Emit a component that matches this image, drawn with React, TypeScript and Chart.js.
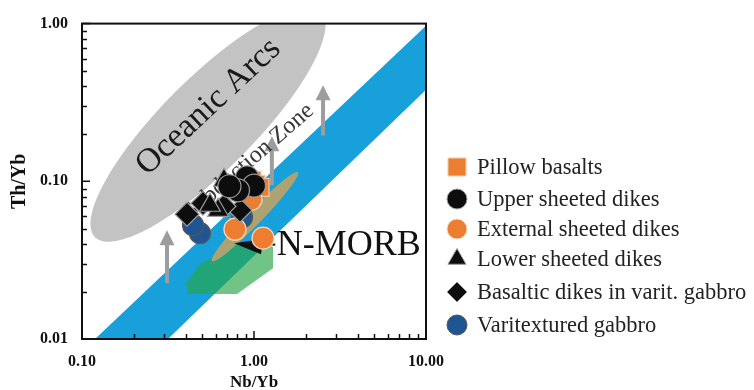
import React, { useEffect, useRef } from "react";
import { Chart, registerables } from "chart.js";
import { drawPoint } from "chart.js/helpers";

Chart.register(...registerables);

// ---------- axes ----------
const xMin = 0.1;
const xMax = 10;
const yMin = 0.01;
const yMax = 1;
const xMajor = [0.1, 1, 10];
const yMajor = [0.01, 0.1, 1];
const xMinor = [0.2, 0.3, 0.4, 0.5, 0.6, 0.7, 0.8, 0.9, 2, 3, 4, 5, 6, 7, 8, 9];
const yMinor = [0.02, 0.03, 0.04, 0.05, 0.06, 0.07, 0.08, 0.09, 0.2, 0.3, 0.4, 0.5, 0.6, 0.7, 0.8, 0.9];
const xTitle = "Nb/Yb";
const yTitle = "Th/Yb";

// ---------- series ----------
const seriesNames = [
  "Pillow basalts",
  "Upper sheeted dikes",
  "External sheeted dikes",
  "Lower sheeted dikes",
  "Basaltic dikes in varit. gabbro",
  "Varitextured gabbro",
];
const pillowNb = [0.973, 1.027, 1.084, 0.935];
const pillowTh = [0.1015, 0.0957, 0.0916, 0.0852];
const upperNb = [0.911, 1.0, 0.807, 0.72];
const upperTh = [0.106, 0.094, 0.0877, 0.093];
const externalNb = [0.775, 1.128, 0.961];
const externalTh = [0.0497, 0.0436, 0.0769];
const lowerNb = [0.669, 0.618, 0.555];
const lowerTh = [0.1015, 0.0655, 0.0705];
const basalticNb = [0.408, 0.505, 0.829, 0.669];
const basalticTh = [0.0618, 0.0726, 0.0655, 0.0695];
const varitexNb = [0.485, 0.442, 0.852];
const varitexTh = [0.0469, 0.0527, 0.0591];

// ---------- reference fields ----------
const bandNb = [0.119, 10, 10, 0.316];
const bandTh = [0.01, 0.97, 0.38, 0.01];
const morbNb = [0.402, 0.413, 0.797, 1.29, 1.29, 1.113, 0.829, 0.485];
const morbTh = [0.0226, 0.0193, 0.0193, 0.0281, 0.0382, 0.0423, 0.0405, 0.0298];
// ellipses: centre, end of major axis, end of minor axis
const arcsNb = [0.54, 0.119, 0.835];
const arcsTh = [0.2297, 0.0442, 0.1429];
const tanNb = [1.013, 0.57, 1.09];
const tanTh = [0.0596, 0.0312, 0.0556];
// vertical arrows
const arrowNb = [0.312, 1.27, 2.52];
const arrowFromTh = [0.0226, 0.0944, 0.195];
const arrowToTh = [0.049, 0.193, 0.406];
// N-MORB pointer
const pointerNb = [0.766, 1.128, 1.098];
const pointerTh = [0.0405, 0.043, 0.0345];
const dashNb = [1.25, 1.33];
const dashTh = [0.0397, 0.0397];
// labels
const labelTexts = ["Oceanic Arcs", "Subduction Zone", "N-MORB"];
const labelNb = [0.544, 0.929, 1.355];
const labelTh = [0.296, 0.1329, 0.0394];

const pts = (xs: number[], ys: number[]) => xs.map((x, i) => ({ x, y: ys[i] }));

const fieldsPlugin = {
  id: "fields",
  beforeDatasetsDraw(chart: any) {
    const { ctx, chartArea: a } = chart;
    const xs = chart.scales.x;
    const ys = chart.scales.y;
    const X = (v: number) => xs.getPixelForValue(v);
    const Y = (v: number) => ys.getPixelForValue(v);
    ctx.save();
    ctx.beginPath();
    ctx.rect(a.left, a.top, a.right - a.left, a.bottom - a.top);
    ctx.clip();

    const poly = (nx: number[], ty: number[], fill: string) => {
      ctx.beginPath();
      nx.forEach((n, i) => (i === 0 ? ctx.moveTo(X(n), Y(ty[i])) : ctx.lineTo(X(n), Y(ty[i]))));
      ctx.closePath();
      ctx.fillStyle = fill;
      ctx.fill();
    };
    const ell = (nx: number[], ty: number[], fill: string) => {
      const cx = X(nx[0]), cy = Y(ty[0]);
      const mx = X(nx[1]) - cx, my = Y(ty[1]) - cy;
      const nxp = X(nx[2]) - cx, nyp = Y(ty[2]) - cy;
      ctx.beginPath();
      ctx.ellipse(cx, cy, Math.hypot(mx, my), Math.hypot(nxp, nyp), Math.atan2(my, mx), 0, Math.PI * 2);
      ctx.fillStyle = fill;
      ctx.fill();
    };

    poly(bandNb, bandTh, "#17a0d9");
    poly(morbNb, morbTh, "rgba(40,165,70,0.66)");
    ell(tanNb, tanTh, "#ada372");
    ell(arcsNb, arcsTh, "#c3c3c3");

    // arrows
    ctx.fillStyle = "#9d9d9d";
    ctx.strokeStyle = "#9d9d9d";
    arrowNb.forEach((n, i) => {
      const x = X(n);
      const y0 = Y(arrowFromTh[i]);
      const y1 = Y(arrowToTh[i]);
      ctx.lineWidth = 4;
      ctx.beginPath();
      ctx.moveTo(x, y0);
      ctx.lineTo(x, y1 + 12);
      ctx.stroke();
      ctx.beginPath();
      ctx.moveTo(x, y1);
      ctx.lineTo(x - 7.5, y1 + 15);
      ctx.lineTo(x + 7.5, y1 + 15);
      ctx.closePath();
      ctx.fill();
    });

    // N-MORB pointer
    ctx.fillStyle = "#111";
    ctx.beginPath();
    pointerNb.forEach((n, i) => (i === 0 ? ctx.moveTo(X(n), Y(pointerTh[i])) : ctx.lineTo(X(n), Y(pointerTh[i]))));
    ctx.closePath();
    ctx.fill();
    ctx.restore();

    // labels
    const drawLabel = (i: number, size: number, rot: number, color: string, align: CanvasTextAlign) => {
      ctx.save();
      ctx.translate(X(labelNb[i]), Y(labelTh[i]));
      ctx.rotate(rot);
      ctx.font = `${size}px "Liberation Serif"`;
      ctx.fillStyle = color;
      ctx.textAlign = align;
      ctx.textBaseline = "middle";
      ctx.fillText(labelTexts[i], 0, 0);
      ctx.restore();
    };
    drawLabel(0, 34, (-43 * Math.PI) / 180, "#1a1a1a", "center");
    drawLabel(1, 24, (-41 * Math.PI) / 180, "#3a3a3a", "center");
    drawLabel(2, 36, 0, "#111", "left");

    ctx.save();
    ctx.strokeStyle = "#111";
    ctx.lineWidth = 2;
    ctx.beginPath();
    ctx.moveTo(X(dashNb[0]), Y(dashTh[0]));
    ctx.lineTo(X(dashNb[1]), Y(dashTh[1]));
    ctx.stroke();
    ctx.restore();
  },
  afterDraw(chart: any) {
    const { ctx, chartArea: a } = chart;
    const xs = chart.scales.x;
    const ys = chart.scales.y;
    ctx.save();
    ctx.strokeStyle = "#111";
    ctx.lineWidth = 2;
    ctx.strokeRect(a.left, a.top, a.right - a.left, a.bottom - a.top);
    ctx.lineWidth = 1.5;
    ctx.beginPath();
    xMinor.forEach((v) => {
      const x = Math.round(xs.getPixelForValue(v)) + 0.5;
      ctx.moveTo(x, a.bottom);
      ctx.lineTo(x, a.bottom - 5);
    });
    yMinor.forEach((v) => {
      const y = Math.round(ys.getPixelForValue(v)) + 0.5;
      ctx.moveTo(a.left, y);
      ctx.lineTo(a.left + 5, y);
    });
    ctx.stroke();
    ctx.beginPath();
    xMajor.forEach((v) => {
      const x = xs.getPixelForValue(v);
      ctx.moveTo(x, a.bottom);
      ctx.lineTo(x, a.bottom - 8);
    });
    yMajor.forEach((v) => {
      const y = ys.getPixelForValue(v);
      ctx.moveTo(a.left, y);
      ctx.lineTo(a.left + 8, y);
    });
    ctx.stroke();
    ctx.restore();

    // legend
    const legendY = [167, 199, 229, 259, 292, 325];
    const legendR = [12.7, 10, 10, 10.5, 10, 10];
    chart.data.datasets.forEach((ds: any, i: number) => {
      ctx.save();
      ctx.fillStyle = ds.pointBackgroundColor;
      ctx.strokeStyle = ds.pointBorderColor;
      ctx.lineWidth = 1;
      drawPoint(ctx, { pointStyle: ds.pointStyle, rotation: 0, radius: legendR[i], borderWidth: 1 }, 457, legendY[i]);
      ctx.font = '22.5px "Liberation Serif"';
      ctx.fillStyle = "#222";
      ctx.textBaseline = "middle";
      ctx.textAlign = "left";
      ctx.fillText(ds.label, 477, legendY[i] + 1);
      ctx.restore();
    });
  },
};

export default function App() {
  const ref = useRef<HTMLCanvasElement | null>(null);
  useEffect(() => {
    if (!ref.current) return;
    const mk = (i: number, nx: number[], ty: number[], style: string, bg: string, border: string, r: number, order: number) => ({
      label: seriesNames[i],
      data: pts(nx, ty),
      pointStyle: style,
      pointBackgroundColor: bg,
      pointBorderColor: border,
      pointBorderWidth: 1.2,
      pointRadius: r,
      pointHoverRadius: r,
      showLine: false,
      order,
    });
    const chart = new Chart(ref.current, {
      type: "scatter",
      data: {
        datasets: [
          mk(0, pillowNb, pillowTh, "rect", "#ed7d31", "#f6c8a6", 12.7, 6),
          mk(1, upperNb, upperTh, "circle", "#0d0d0d", "#9a9a9a", 11.5, 1),
          mk(2, externalNb, externalTh, "circle", "#ed7d31", "#f8d9c2", 11, 4),
          mk(3, lowerNb, lowerTh, "triangle", "#0d0d0d", "#9a9a9a", 12, 2),
          mk(4, basalticNb, basalticTh, "rectRot", "#0d0d0d", "#9a9a9a", 12, 3),
          mk(5, varitexNb, varitexTh, "circle", "#1f5592", "#555", 10.5, 5),
        ] as any,
      },
      options: {
        animation: false,
        responsive: false,
        devicePixelRatio: 1,
        layout: { padding: { left: 0, top: 23, right: 328, bottom: 0 } },
        plugins: { legend: { display: false }, tooltip: { enabled: false } },
        scales: {
          x: {
            type: "logarithmic",
            min: xMin,
            max: xMax,
            grid: { display: false, drawTicks: false },
            border: { display: false },
            afterBuildTicks: (s: any) => {
              s.ticks = xMajor.map((value) => ({ value }));
            },
            afterFit: (s: any) => {
              s.height = 51;
            },
            ticks: {
              autoSkip: false,
              maxRotation: 0,
              padding: 13,
              color: "#111",
              font: { family: "Liberation Serif", size: 16, weight: "bold" },
              callback: (v: any) => Number(v).toFixed(2),
            },
            title: {
              display: true,
              text: xTitle,
              color: "#111",
              font: { family: "Liberation Serif", size: 17, weight: "bold", lineHeight: 0.9 },
              padding: { top: 0, bottom: 0 },
            },
          },
          y: {
            type: "logarithmic",
            min: yMin,
            max: yMax,
            grid: { display: false, drawTicks: false },
            border: { display: false },
            afterBuildTicks: (s: any) => {
              s.ticks = yMajor.map((value) => ({ value }));
            },
            afterFit: (s: any) => {
              s.width = 82;
            },
            ticks: {
              autoSkip: false,
              padding: 14,
              color: "#111",
              font: { family: "Liberation Serif", size: 16, weight: "bold" },
              callback: (v: any) => Number(v).toFixed(2),
            },
            title: {
              display: true,
              text: yTitle,
              color: "#111",
              font: { family: "Liberation Serif", size: 20, weight: "bold" },
              padding: { top: 8, bottom: 0 },
            },
          },
        },
      } as any,
      plugins: [fieldsPlugin],
    });
    return () => chart.destroy();
  }, []);
  return (
    <div style={{ position: "absolute", left: 0, top: 0, width: 754, height: 390, background: "#fff" }}>
      <canvas ref={ref} width={754} height={390} style={{ display: "block", width: 754, height: 390 }} />
    </div>
  );
}
